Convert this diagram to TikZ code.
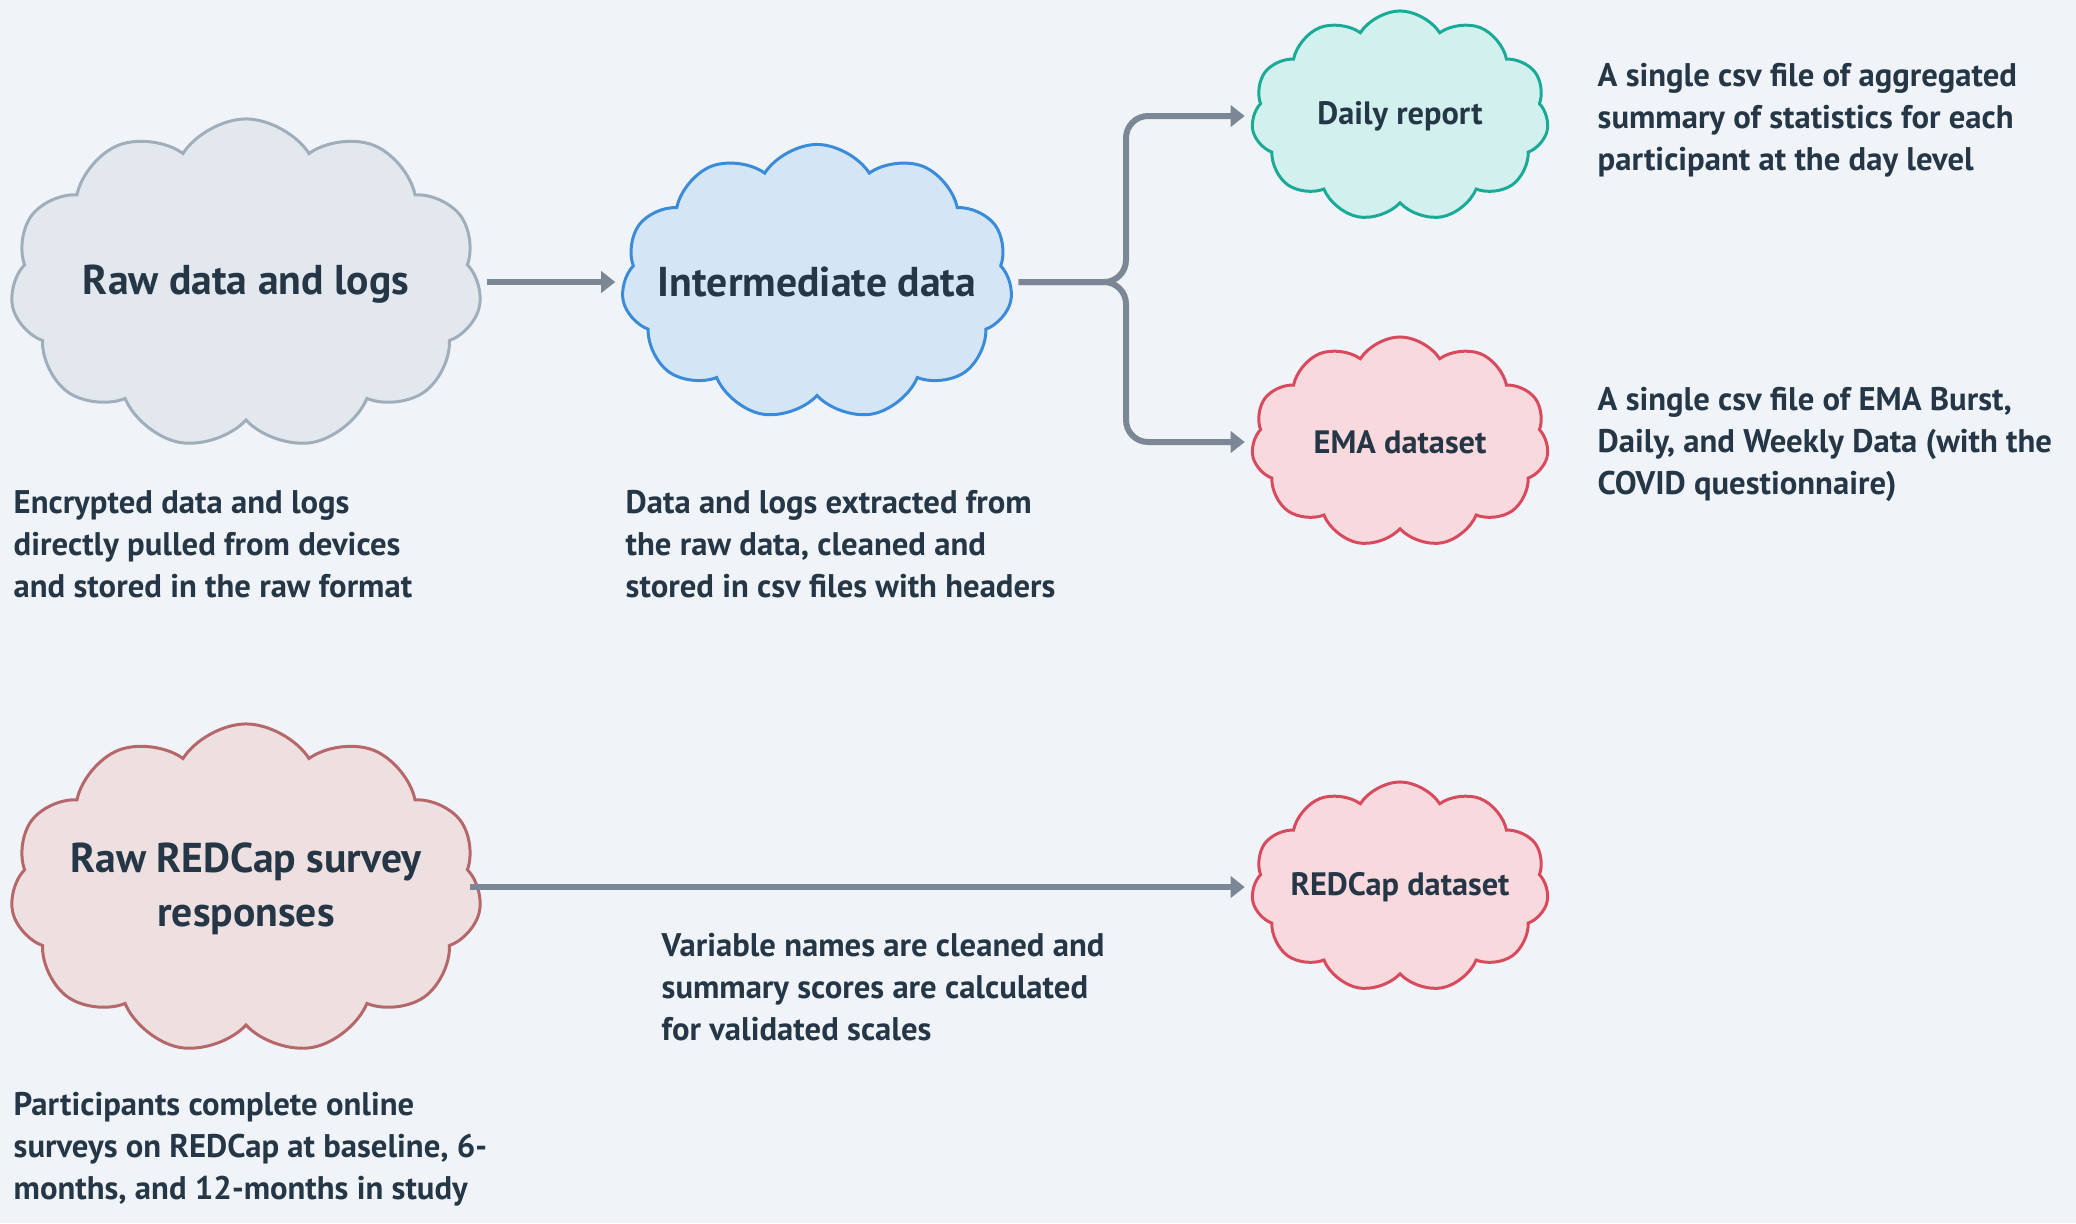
\documentclass[tikz,border=0pt]{standalone}
\usepackage{fontspec}
\setmainfont{PT Sans}
\usetikzlibrary{shapes.symbols,arrows.meta}
\definecolor{bgc}{HTML}{F0F4F8}
\definecolor{txt}{HTML}{253746}
\definecolor{arr}{HTML}{7B8794}
\definecolor{rawfill}{HTML}{E2E8EE}
\definecolor{rawdraw}{HTML}{A0AEBB}
\definecolor{intfill}{HTML}{D4E6F6}
\definecolor{intdraw}{HTML}{3A8BD9}
\definecolor{dayfill}{HTML}{D2F0EE}
\definecolor{daydraw}{HTML}{1AAA98}
\definecolor{emafill}{HTML}{F8D9DE}
\definecolor{emadraw}{HTML}{D84A5E}
\definecolor{redfill}{HTML}{EEDFE0}
\definecolor{reddraw}{HTML}{B5676A}
\newcommand{\zw}[1]{\makebox[0pt]{\raisebox{-0.04cm}{#1}}}
\tikzset{
  cloudbox/.style={cloud, cloud puffs=11, cloud puff arc=115, cloud ignores aspect, line width=0.85pt, text=txt, align=center, inner sep=0pt},
  bigcloud/.style={cloudbox, minimum width=4.71cm, minimum height=3.30cm, font=\bfseries\fontsize{11.85}{15.5}\selectfont},
  midcloud/.style={cloudbox, minimum width=3.91cm, minimum height=2.75cm, font=\bfseries\fontsize{11.85}{15}\selectfont},
  smallcloud/.style={cloudbox, minimum width=2.97cm, minimum height=2.10cm, font=\bfseries\fontsize{9.2}{12}\selectfont},
  desc/.style={anchor=west, align=left, inner sep=0pt, text=txt, font=\bfseries\fontsize{9.3}{11.95}\selectfont},
  conn/.style={draw=arr, line width=1.7pt, -{Triangle[length=4pt,width=6pt]}, rounded corners=0.22cm, shorten >=2pt, shorten <=2pt}
}
\begin{document}
\begin{tikzpicture}[x=0.01cm,y=-0.01cm]
\fill[bgc] (0,0) rectangle (2076,1223);
\useasboundingbox (0,0) rectangle (2076,1223);
\node[bigcloud, fill=rawfill, draw=rawdraw] (raw) at (246,284) {\zw{Raw data and logs}};
\node[midcloud, fill=intfill, draw=intdraw] (inter) at (817,282) {\zw{Intermediate data}};
\node[smallcloud, fill=dayfill, draw=daydraw] (daily) at (1400,116) {\zw{Daily report}};
\node[smallcloud, fill=emafill, draw=emadraw] (ema) at (1400,442) {\zw{EMA dataset}};
\node[bigcloud, fill=redfill, draw=reddraw] (rawred) at (246,889) {\zw{Raw REDCap survey}\\\zw{responses}};
\node[smallcloud, fill=emafill, draw=emadraw] (redcap) at (1400,887) {\zw{REDCap dataset}};
\coordinate (bx) at (1126,282);
\draw[conn] (raw.east |- inter.west) -- (inter.west);
\draw[conn] (inter.east) -- (bx) |- (daily.west);
\draw[conn] (inter.east) -- (bx) |- (ema.west);
\draw[conn, shorten <=-3pt] (rawred.east |- redcap.west) -- (redcap.west);
\node[desc] (d1) at (13,544) {Encrypted data and logs\\directly pulled from devices\\and stored in the raw format};
\node[desc] (d2) at (625,544) {Data and logs extracted from\\the raw data, cleaned and\\stored in csv files with headers};
\node[desc] (d3) at (1597,120) {A single csv file of aggregated\\summary of statistics for each\\participant at the day level};
\node[desc] (d4) at (1597,444) {A single csv file of EMA Burst,\\Daily, and Weekly Data (with the\\COVID questionnaire)};
\node[desc] (d5) at (661,987) {Variable names are cleaned and\\summary scores are calculated\\for validated scales};
\node[desc] (d6) at (13,1149) {Participants complete online\\surveys on REDCap at baseline, 6-\\months, and 12-months in study};
\end{tikzpicture}
\end{document}
